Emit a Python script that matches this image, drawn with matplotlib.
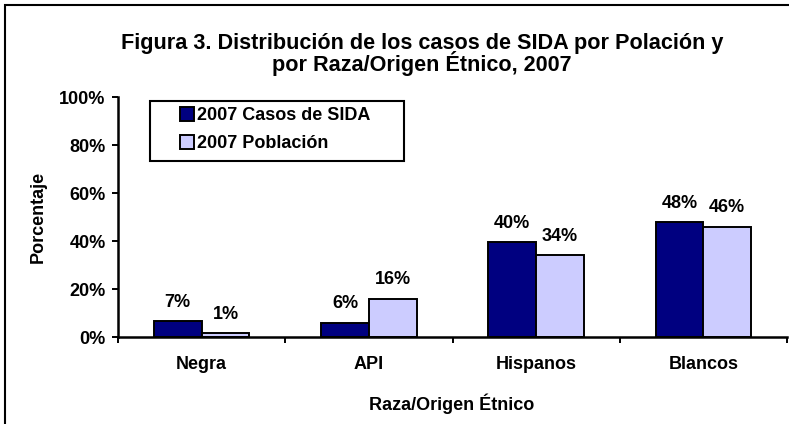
import matplotlib
matplotlib.use('Agg')
import matplotlib.pyplot as plt
from matplotlib.patches import Rectangle
import numpy as np

plt.rcParams['font.family'] = ['Liberation Sans', 'DejaVu Sans']
plt.rcParams['font.weight'] = 'bold'

# Data
categories = ['Negra', 'API', 'Hispanos', 'Blancos']
casosSida = [6.5, 6.0, 39.5, 47.8]
poblacion = [1.6, 16.0, 34.0, 46.0]
casosLabels = ['7%', '6%', '40%', '48%']
poblacionLabels = ['1%', '16%', '34%', '46%']
seriesNames = ['2007 Casos de SIDA', '2007 Población']
yTicks = [0, 20, 40, 60, 80, 100]

darkBlue = '#000080'
lightBlue = '#CCCCFF'
W, H = 789, 424

fig = plt.figure(figsize=(W / 100, H / 100), dpi=100)
ax = fig.add_axes([118 / W, 1 - 337 / H, 669 / W, 240 / H])

x = np.arange(len(categories))
barWidth = 0.285
bars1 = ax.bar(x - barWidth / 2, casosSida, barWidth, color=darkBlue,
               edgecolor='black', linewidth=1.4, label=seriesNames[0])
bars2 = ax.bar(x + barWidth / 2, poblacion, barWidth, color=lightBlue,
               edgecolor='black', linewidth=1.4, label=seriesNames[1])

# Value labels above the bars
for bars, labels in [(bars1, casosLabels), (bars2, poblacionLabels)]:
    for b, lab in zip(bars, labels):
        ax.annotate(lab, (b.get_x() + b.get_width() / 2, b.get_height()),
                    xytext=(0, 10.5), textcoords='offset points',
                    ha='center', va='baseline', fontsize=13, fontweight='bold')

ax.set_xlim(-0.5, len(categories) - 0.5)
ax.set_ylim(0, 100)
ax.set_yticks(yTicks)
ax.set_yticklabels([f'{t}%' for t in yTicks])
ax.tick_params(axis='y', length=4.5, width=1.4, pad=4.5, labelsize=13)

# Category ticks at group boundaries, labels at group centres
ax.set_xticks(np.arange(len(categories) + 1) - 0.5)
ax.set_xticklabels([])
ax.tick_params(axis='x', which='major', length=4.5, width=1.4, direction='out')
ax.set_xticks(x, minor=True)
ax.set_xticklabels(categories, minor=True)
ax.tick_params(axis='x', which='minor', length=0, pad=14, labelsize=13)

for side in ['top', 'right']:
    ax.spines[side].set_visible(False)
for side in ['left', 'bottom']:
    ax.spines[side].set_linewidth(1.8)

# Legend with a plain rectangular frame
ax.add_patch(Rectangle((32 / 669, (337 - 161) / 240), 254 / 669, 60 / 240,
                       transform=ax.transAxes, fill=False, edgecolor='black',
                       linewidth=1.5, clip_on=False, zorder=5))
ax.legend(loc='upper left', bbox_to_anchor=(62 / 669, (337 - 107) / 240),
          frameon=False, fontsize=13, handlelength=0.8, handleheight=0.8,
          handletextpad=0.15, labelspacing=0.6, borderpad=0, borderaxespad=0)
for p in ax.get_legend().get_patches():
    p.set_linewidth(1.4)

fig.text(422 / W, 1 - 48.5 / H, 'Figura 3. Distribución de los casos de SIDA por Polación y',
         ha='center', va='baseline', fontsize=15.6, fontweight='bold')
fig.text(422 / W, 1 - 71.5 / H, 'por Raza/Origen Étnico, 2007',
         ha='center', va='baseline', fontsize=15.6, fontweight='bold')
fig.text(452 / W, 1 - 404 / H, 'Raza/Origen Étnico', ha='center', va='center',
         fontsize=13, fontweight='bold')
fig.text(38 / W, 1 - 217 / H, 'Porcentaje', ha='center', va='center',
         rotation=90, fontsize=13, fontweight='bold')

# Outer chart frame (right and bottom edges fall outside the picture)
fig.patches.append(Rectangle((5 / W, -0.1), 1.2, 1 - 5 / H + 0.1,
                             transform=fig.transFigure, fill=False,
                             edgecolor='black', linewidth=1.5))

fig.savefig('out.png', dpi=100)
